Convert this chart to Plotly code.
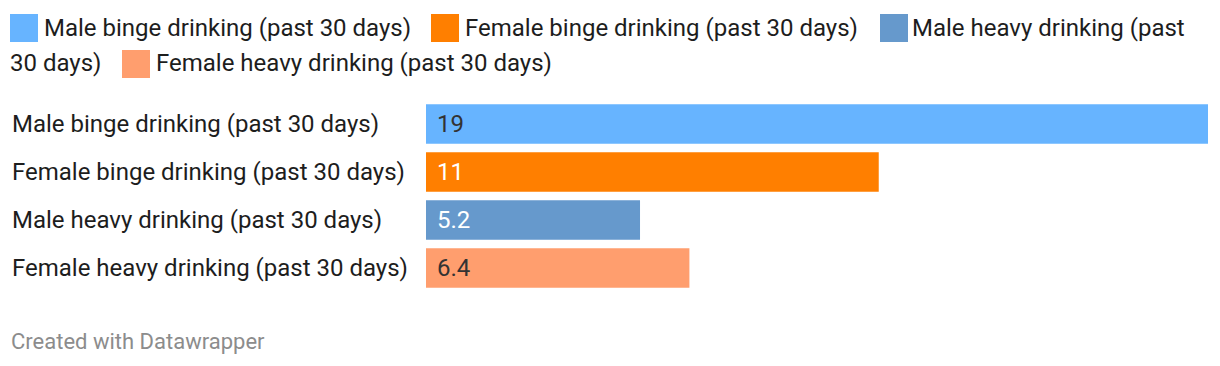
import plotly.graph_objects as go

categories = [
    "Male binge drinking (past 30 days)",
    "Female binge drinking (past 30 days)",
    "Male heavy drinking (past 30 days)",
    "Female heavy drinking (past 30 days)",
]
values = [19, 11, 5.2, 6.4]
value_labels = ["19", "11", "5.2", "6.4"]
colors = ["#67b4ff", "#ff7f00", "#6699cc", "#ff9e6e"]
label_colors = ["#333333", "#ffffff", "#ffffff", "#333333"]

FONT = "Roboto, 'Noto Sans', Arial, sans-serif"
# the page body has an 8px margin; work in window pixels and subtract it
OFF = 8
W, H = 1220 - OFF, 366 - OFF
PLOT_LEFT, PLOT_RIGHT, PLOT_TOP, PLOT_BOTTOM = 426, 1208, 100, 292
ML = PLOT_LEFT - OFF
MR = W - (PLOT_RIGHT - OFF)
MT = PLOT_TOP - OFF
MB = H - (PLOT_BOTTOM - OFF)

TXT = 24

fig = go.Figure()
fig.add_trace(go.Bar(
    y=categories, x=values, orientation="h",
    marker=dict(color=colors, line=dict(width=0)),
    hoverinfo="skip", showlegend=False,
))

annotations = []
shapes = []

# category labels (left aligned)
for c in categories:
    annotations.append(dict(
        x=0, xref="paper", y=c, yref="y", xanchor="left", yanchor="middle",
        xshift=12 - PLOT_LEFT - 2, text=c, showarrow=False,
        font=dict(family=FONT, size=TXT, color="#1d1d1d"),
    ))

# value labels inside bars
for c, v, t, tc in zip(categories, values, value_labels, label_colors):
    annotations.append(dict(
        x=0, xref="x", y=c, yref="y", xanchor="left", yanchor="middle",
        xshift=9, text=t, showarrow=False,
        font=dict(family=FONT, size=TXT, color=tc),
    ))

# custom legend (flowing text, wrapping like the original)
def px_x(px):
    return px - PLOT_LEFT

def px_y(py):
    return PLOT_TOP - py

def legend_key(x0, ytop, color):
    shapes.append(dict(
        type="rect", xref="paper", yref="paper",
        xsizemode="pixel", ysizemode="pixel", xanchor=0, yanchor=1,
        x0=px_x(x0), x1=px_x(x0 + 28), y0=px_y(ytop), y1=px_y(ytop + 28),
        fillcolor=color, line=dict(width=0), layer="above",
    ))

def legend_text(x, ycenter, text):
    annotations.append(dict(
        x=0, xref="paper", y=1, yref="paper", xanchor="left", yanchor="middle",
        xshift=px_x(x) - 2, yshift=px_y(ycenter), text=text, showarrow=False,
        font=dict(family=FONT, size=TXT, color="#1d1d1d"),
    ))

row1, row2 = 28, 63
legend_key(10, 14, colors[0])
legend_text(44, row1, categories[0])
legend_key(431, 14, colors[1])
legend_text(465, row1, categories[1])
legend_key(880, 14, colors[2])
head, tail = categories[2].rsplit(" 30", 1)
legend_text(912, row1, head)
legend_text(10, row2, "30" + tail)
legend_key(122, 50, colors[3])
legend_text(156, row2, categories[3])

# footer
annotations.append(dict(
    x=0, xref="paper", y=0, yref="paper", xanchor="left", yanchor="middle",
    xshift=11 - PLOT_LEFT - 2, yshift=-(341 - PLOT_BOTTOM), text="Created with Datawrapper",
    showarrow=False, font=dict(family=FONT, size=22, color="#8c8c8c"),
))

fig.update_layout(
    width=W, height=H,
    margin=dict(l=ML, r=MR, t=MT, b=MB, pad=0),
    paper_bgcolor="white", plot_bgcolor="white",
    bargap=0.18,
    xaxis=dict(range=[0, max(values)], visible=False, fixedrange=True),
    yaxis=dict(autorange="reversed", showticklabels=False, showgrid=False,
               zeroline=False, showline=False, ticks="", fixedrange=True),
    annotations=annotations, shapes=shapes,
    font=dict(family=FONT),
)

fig.write_html("out.html", config={"displayModeBar": False})
